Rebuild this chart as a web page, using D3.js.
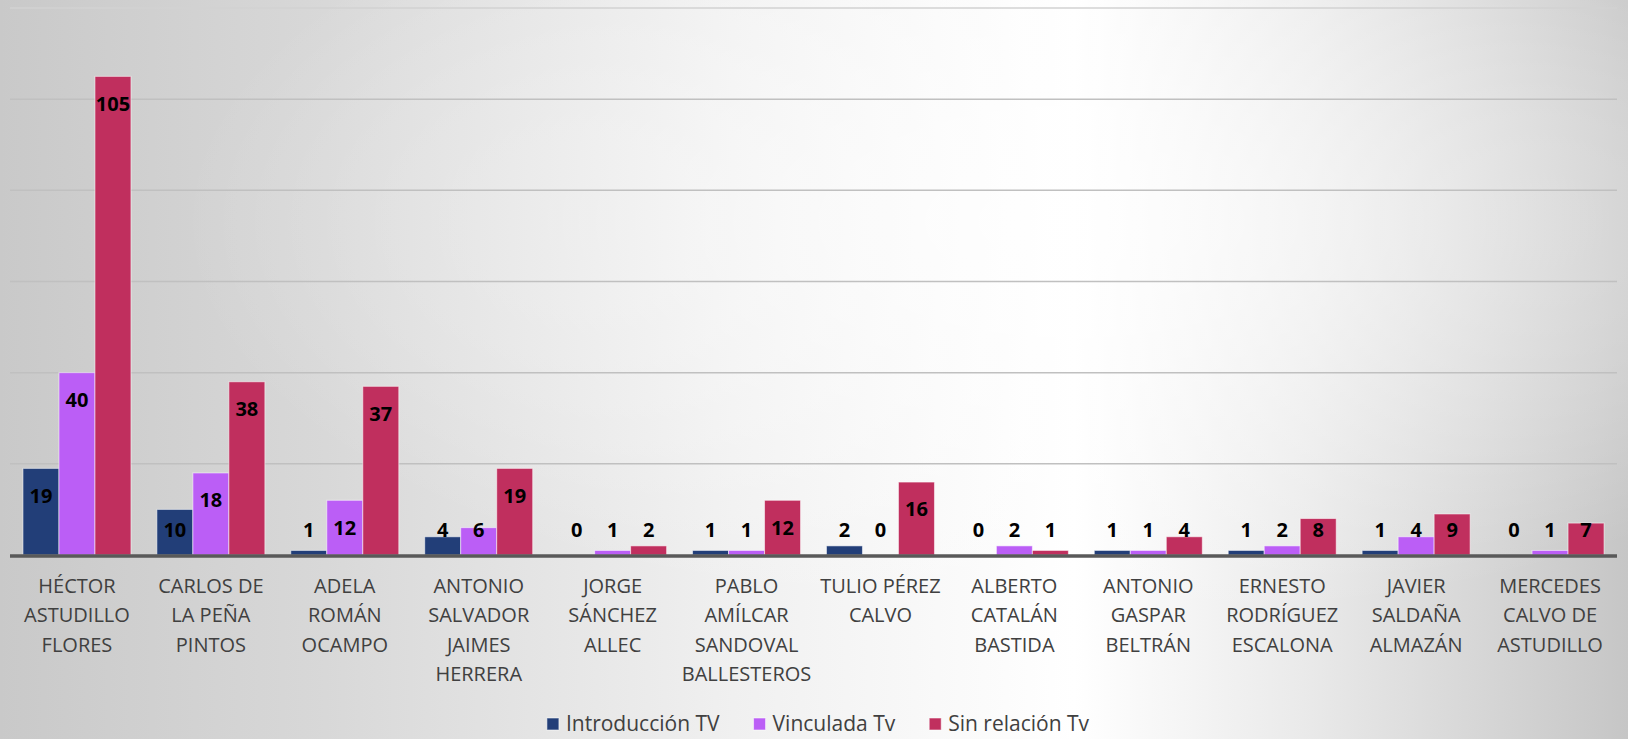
<!DOCTYPE html>
<html>
<head>
<meta charset="utf-8">
<script src="https://cdn.jsdelivr.net/npm/d3@7"></script>
<style>
  html, body { margin: 0; padding: 0; background: #fff; }
  svg { display: block; }
</style>
</head>
<body>
<div id="chart"></div>
<script>
// data
const categories = [
  ["HÉCTOR", "ASTUDILLO", "FLORES"],
  ["CARLOS DE", "LA PEÑA", "PINTOS"],
  ["ADELA", "ROMÁN", "OCAMPO"],
  ["ANTONIO", "SALVADOR", "JAIMES", "HERRERA"],
  ["JORGE", "SÁNCHEZ", "ALLEC"],
  ["PABLO", "AMÍLCAR", "SANDOVAL", "BALLESTEROS"],
  ["TULIO PÉREZ", "CALVO"],
  ["ALBERTO", "CATALÁN", "BASTIDA"],
  ["ANTONIO", "GASPAR", "BELTRÁN"],
  ["ERNESTO", "RODRÍGUEZ", "ESCALONA"],
  ["JAVIER", "SALDAÑA", "ALMAZÁN"],
  ["MERCEDES", "CALVO DE", "ASTUDILLO"]
];
const seriesNames = ["Introducción TV", "Vinculada Tv", "Sin relación Tv"];
const introduccion = [19, 10, 1, 4, 0, 1, 2, 0, 1, 1, 1, 0];
const vinculada    = [40, 18, 12, 6, 1, 1, 0, 2, 1, 2, 4, 1];
const sinRelacion  = [105, 38, 37, 19, 2, 12, 16, 1, 4, 8, 9, 7];
const colors = ["#223e78", "#bb5ef6", "#c02f5e"];

const W = 1628, H = 739;
const plot = {left: 10, right: 1617, top: 8, bottom: 555};

const svg = d3.select("#chart").append("svg")
    .attr("width", W)
    .attr("height", H);

// background gradient
const defs = svg.append("defs");
const lg = defs.append("linearGradient").attr("id", "bg");
[[0, "#c9c9c9"], [0.2, "#d8d8d8"], [0.45, "#f0f0f0"], [0.66, "#ffffff"], [0.8, "#eaeaea"], [1, "#c6c6c6"]]
  .forEach(s => lg.append("stop").attr("offset", s[0]).attr("stop-color", s[1]));
const rg = defs.append("radialGradient").attr("id", "glow")
    .attr("cx", 0.66).attr("cy", 0.3).attr("r", 0.55);
rg.append("stop").attr("offset", 0).attr("stop-color", "#fff").attr("stop-opacity", 0.7);
rg.append("stop").attr("offset", 1).attr("stop-color", "#fff").attr("stop-opacity", 0);

svg.append("rect").attr("width", W).attr("height", H).attr("fill", "url(#bg)");
svg.append("rect").attr("width", W).attr("height", H).attr("fill", "url(#glow)");

const idx = d3.range(categories.length);
const seriesData = [introduccion, vinculada, sinRelacion];

const x0 = d3.scaleBand().domain(idx).range([plot.left, plot.right]).padding(0);
const x1 = d3.scaleBand().domain(d3.range(3)).range([0, x0.bandwidth()])
    .paddingInner(0).paddingOuter(0.36);
const y = d3.scaleLinear().domain([0, 120]).range([plot.bottom, plot.top]);

// gridlines
svg.append("g")
  .selectAll("line")
  .data(d3.range(20, 121, 20))
  .join("line")
    .attr("x1", plot.left).attr("x2", plot.right)
    .attr("y1", d => y(d)).attr("y2", d => y(d))
    .attr("stroke", d => d === 120 ? "#d2d2d2" : "#c0c0c0")
    .attr("stroke-width", 1.5);

// bars
const groups = svg.append("g")
  .selectAll("g")
  .data(idx)
  .join("g")
    .attr("transform", i => `translate(${x0(i)},0)`);

groups.selectAll("rect")
  .data(i => seriesData.map((s, k) => ({k, v: s[i]})))
  .join("rect")
    .attr("x", d => x1(d.k))
    .attr("y", d => y(d.v))
    .attr("width", x1.bandwidth())
    .attr("height", d => y(0) - y(d.v))
    .attr("fill", d => colors[d.k])
    .attr("stroke", "rgba(255,255,255,0.55)")
    .attr("stroke-width", 1);

// value labels (inside end)
groups.selectAll("text")
  .data(i => seriesData.map((s, k) => ({k, v: s[i]})))
  .join("text")
    .attr("x", d => x1(d.k) + x1.bandwidth() / 2)
    .attr("y", d => Math.min(y(d.v) + 27, plot.bottom - 25))
    .attr("dy", "0.36em")
    .attr("text-anchor", "middle")
    .attr("font-family", "'Open Sans', sans-serif")
    .attr("font-weight", "bold")
    .attr("font-size", 20)
    .attr("fill", "#000")
    .text(d => d.v);

// baseline
svg.append("line")
    .attr("x1", plot.left).attr("x2", plot.right)
    .attr("y1", y(0) + 1).attr("y2", y(0) + 1)
    .attr("stroke", "#595959")
    .attr("stroke-width", 3.5);

// category labels
const xAxis = svg.append("g")
    .attr("transform", `translate(0,${plot.bottom})`)
    .call(d3.axisBottom(x0).tickSize(0).tickFormat(""));
xAxis.select(".domain").remove();
xAxis.selectAll(".tick text").remove();
xAxis.selectAll(".tick")
  .append("text")
    .attr("text-anchor", "middle")
    .attr("font-family", "'Open Sans', sans-serif")
    .attr("font-size", 20)
    .attr("fill", "#404040")
  .selectAll("tspan")
  .data(i => categories[i])
  .join("tspan")
    .attr("x", 0)
    .attr("y", (d, j) => 38 + j * 29.3)
    .text(d => d);

// legend
const legend = svg.append("g").attr("transform", "translate(0,724)");
const items = legend.selectAll("g")
  .data(seriesNames)
  .join("g");
items.append("rect")
    .attr("y", -6).attr("width", 12).attr("height", 12)
    .attr("fill", (d, k) => colors[k])
    .attr("stroke", "rgba(255,255,255,0.55)")
    .attr("stroke-width", 1);
items.append("text")
    .attr("x", 19)
    .attr("dy", "0.35em")
    .attr("font-family", "'Open Sans', sans-serif")
    .attr("font-size", 21)
    .attr("fill", "#404040")
    .text(d => d);

let widths = [];
items.each(function() {
  widths.push(19 + d3.select(this).select("text").node().getComputedTextLength());
});
const gap = 34;
const total = d3.sum(widths) + gap * (widths.length - 1);
let cx = 818 - total / 2;
items.attr("transform", (d, k) => {
  const t = `translate(${cx},0)`;
  cx += widths[k] + gap;
  return t;
});
</script>
</body>
</html>
